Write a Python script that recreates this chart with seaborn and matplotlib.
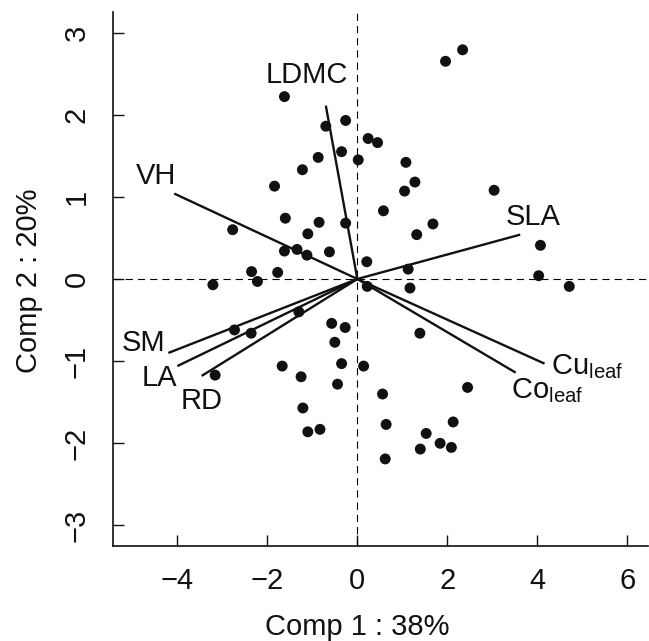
import matplotlib
matplotlib.use('Agg')
import matplotlib.pyplot as plt
import seaborn as sns
import pandas as pd

# site scores on the first two components
comp1 = [-1.62, -0.26, -0.70, 0.24, 0.45, -0.35, -0.87, 0.02, -1.22, -1.84,
         0.58, -1.60, -0.85, -0.26, -2.77, -1.10, -1.62, -1.34, -1.12, -0.62,
         0.21, -2.35, -1.77, -2.22, -3.21, 1.96, 2.34, 1.08, 1.28, 1.05,
         3.04, 1.68, 1.32, 4.07, 1.13, 4.03, 4.71, 1.17, 0.22, -2.73,
         -2.36, -1.30, -0.57, -0.27, -0.50, -1.67, -1.25, -0.35, 0.14, -0.44,
         -3.16, -1.21, -1.10, -0.83, 1.39, 2.45, 0.56, 0.64, 2.13, 1.53,
         1.84, 1.40, 2.09, 0.62]
comp2 = [2.22, 1.93, 1.86, 1.71, 1.66, 1.55, 1.48, 1.45, 1.33, 1.13,
         0.83, 0.74, 0.69, 0.68, 0.60, 0.55, 0.34, 0.36, 0.29, 0.33,
         0.21, 0.09, 0.08, -0.03, -0.07, 2.65, 2.79, 1.42, 1.18, 1.07,
         1.08, 0.67, 0.54, 0.41, 0.12, 0.04, -0.09, -0.11, -0.09, -0.62,
         -0.66, -0.40, -0.54, -0.59, -0.77, -1.06, -1.19, -1.03, -1.06, -1.28,
         -1.17, -1.57, -1.86, -1.83, -0.66, -1.32, -1.40, -1.77, -1.74, -1.88,
         -2.00, -2.07, -2.05, -2.19]

# trait loadings (line ends) and their label positions
traits = ['LDMC', 'VH', 'SLA', 'SM', 'LA', 'RD', 'Cu', 'Co']
load1 = [-0.70, -4.07, 3.62, -4.20, -4.00, -3.46, 4.16, 3.52]
load2 = [2.11, 1.04, 0.54, -0.90, -1.06, -1.18, -1.03, -1.14]
lab1 = [-1.12, -4.47, 3.91, -4.76, -4.40, -3.46, 4.30, 3.41]
lab2 = [2.48, 1.25, 0.75, -0.78, -1.21, -1.49, -1.16, -1.45]
labels = ['LDMC', 'VH', 'SLA', 'SM', 'LA', 'RD',
          r'Cu$_{\mathrm{leaf}}$', r'Co$_{\mathrm{leaf}}$']

df = pd.DataFrame({'comp1': comp1, 'comp2': comp2})

sns.set_style('ticks')
plt.rcParams['font.family'] = ['Liberation Sans', 'DejaVu Sans']
plt.rcParams['mathtext.fontset'] = 'custom'
plt.rcParams['mathtext.rm'] = 'Liberation Sans'
fs = 21

fig = plt.figure(figsize=(6.49, 6.41), dpi=100)
ax = fig.add_axes([113 / 649, 1 - 546 / 641, (648 - 113) / 649, (546 - 12) / 641])

ax.axhline(0, color='black', lw=0.8, ls=(0, (6.5, 4.5)), zorder=1)
ax.axvline(0, color='black', lw=0.8, ls=(0, (6.5, 4.5)), zorder=1)

sns.scatterplot(data=df, x='comp1', y='comp2', ax=ax, color='#111111',
                s=62, edgecolor='none', zorder=3)

for i, t in enumerate(traits):
    ax.plot([0, load1[i]], [0, load2[i]], color='#111111', lw=1.7,
            solid_capstyle='butt', zorder=2)
    if t in ('Cu', 'Co'):
        ax.text(lab1[i], lab2[i], labels[i], fontsize=fs, ha='left',
                va='baseline', color='#111111')
    else:
        ax.text(lab1[i], lab2[i], labels[i], fontsize=fs, ha='center',
                va='center', color='#111111')

ax.set_xlim(-5.43, 6.46)
ax.set_ylim(-3.25, 3.25)
ax.set_xticks([-4, -2, 0, 2, 4, 6])
ax.set_yticks([-3, -2, -1, 0, 1, 2, 3])
ax.set_xlabel('')
ax.set_ylabel('')
ax.tick_params(axis='both', direction='in', length=8, width=1,
               labelsize=fs, colors='#111111')
ax.tick_params(axis='x', pad=15)
ax.tick_params(axis='y', pad=16, labelrotation=90)
for lab in ax.get_yticklabels():
    lab.set_va('center')
sns.despine(ax=ax)
for sp in ('left', 'bottom'):
    ax.spines[sp].set_linewidth(1.2)
    ax.spines[sp].set_color('#111111')

fig.text(357 / 649, 1 - 635 / 641, 'Comp 1 : 38%', fontsize=fs,
         ha='center', va='baseline', color='#111111')
fig.text(29 / 649, 1 - 281 / 641, 'Comp 2 : 20%', fontsize=fs,
         ha='center', va='center', rotation=90, color='#111111')

fig.savefig('out.png', dpi=100)
